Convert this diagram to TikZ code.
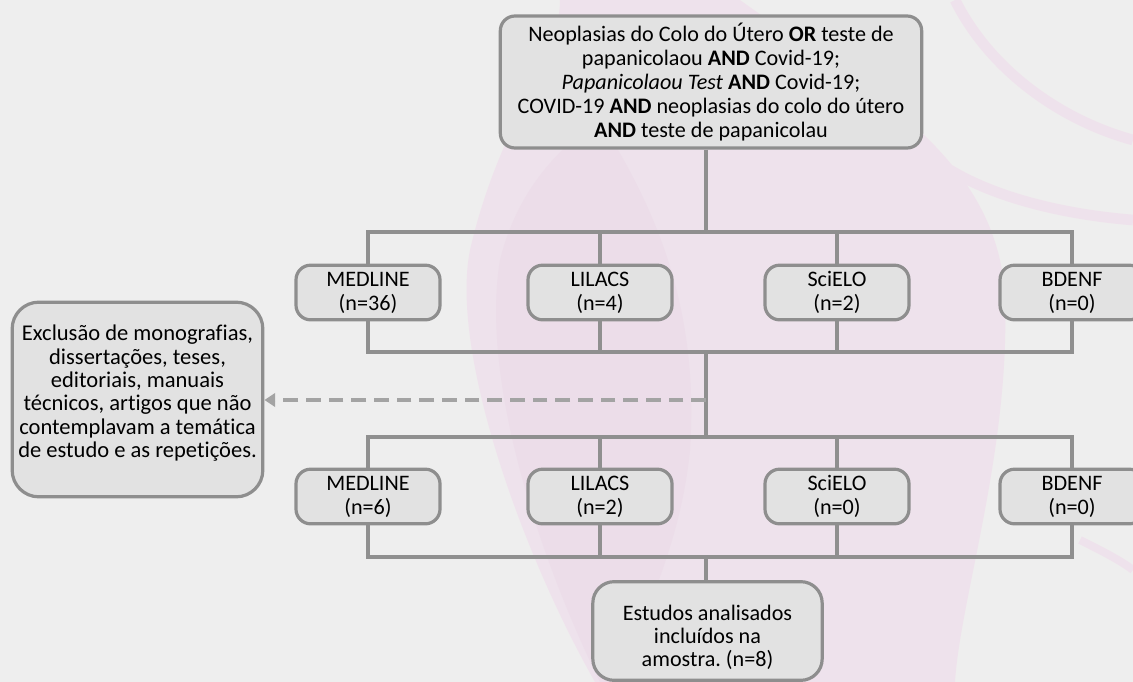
\documentclass[tikz,border=0pt]{standalone}
\usepackage{fontspec}
\setmainfont{Carlito}[Ligatures=NoCommon]
\usetikzlibrary{arrows.meta}
\frenchspacing
\definecolor{paper}{HTML}{EEEEEE}
\definecolor{petal}{HTML}{EEE2EC}
\definecolor{petaldark}{HTML}{ECDDE9}
\definecolor{boxfill}{HTML}{E2E2E2}
\definecolor{boxline}{HTML}{8E8E8E}
\definecolor{conn}{HTML}{8F8F8F}
\definecolor{dashc}{HTML}{A3A3A3}
\tikzset{
  box/.style={draw=boxline, line width=2.4pt, fill=boxfill, rounded corners=11pt,
    align=center, inner sep=0pt, font=\fontsize{16.6pt}{18pt}\selectfont, text=black},
  dbbox/.style={box, minimum width=108pt, minimum height=41pt},
  link/.style={draw=conn, line width=2.3pt},
  excl/.style={draw=dashc, line width=2.3pt, dash pattern=on 11pt off 6pt, -{Triangle[width=10pt,length=8pt]}},
}
\begin{document}
\begin{tikzpicture}[x=0.75pt,y=-0.75pt]
% background
\fill[paper] (0,0) rectangle (1133,682);
\useasboundingbox (0,0) rectangle (1133,682);
\fill[petal] (560,0) -- (740,0) .. controls (850,80) and (1000,150) .. (1005,300)
  .. controls (1010,450) and (960,600) .. (955,682) -- (595,682)
  .. controls (520,550) and (450,350) .. (470,250) .. controls (500,120) and (560,60) .. (560,0);
\fill[petaldark] (600,120) .. controls (650,200) and (700,300) .. (690,450)
  .. controls (680,550) and (640,620) .. (620,682) -- (600,682)
  .. controls (540,560) and (480,380) .. (500,260) .. controls (520,180) and (570,140) .. (600,120);
\draw[petal, line width=8pt] (955,0) .. controls (990,70) and (1060,120) .. (1133,140);
\draw[petal, line width=8pt] (950,170) .. controls (1000,200) and (1070,215) .. (1133,220);
\draw[petal, line width=6pt] (1080,540) .. controls (1100,550) and (1120,560) .. (1133,570);

% nodes
\node[box, minimum width=316pt, minimum height=99pt] (top) at (711,82)
  {Neoplasias do Colo do Útero \textbf{OR} teste de\\
   papanicolaou \textbf{AND} Covid-19;\\
   \textit{Papanicolaou Test} \textbf{AND} Covid-19;\\
   COVID-19 \textbf{AND} neoplasias do colo do útero\\
   \textbf{AND} teste de papanicolau};

\node[dbbox] (m1) at (368,292.5) {MEDLINE\\(n=36)};
\node[dbbox] (l1) at (600,292.5) {LILACS\\(n=4)};
\node[dbbox] (s1) at (837,292.5) {SciELO\\(n=2)};
\node[dbbox] (b1) at (1072,292.5) {BDENF\\(n=0)};

\node[dbbox] (m2) at (368,496.5) {MEDLINE\\(n=6)};
\node[dbbox] (l2) at (600,496.5) {LILACS\\(n=2)};
\node[dbbox] (s2) at (837,496.5) {SciELO\\(n=0)};
\node[dbbox] (b2) at (1072,496.5) {BDENF\\(n=0)};

\node[box, rounded corners=20pt, minimum width=188pt, minimum height=146pt,
  font=\fontsize{16.9pt}{17.5pt}\selectfont] (ex) at (137.5,399.5)
  {Exclusão de monografias,\\dissertações, teses,\\editoriais, manuais\\técnicos, artigos que não\\contemplavam a temática\\de estudo e as repetições.\\[-5.5pt]\mbox{}};

\node[box, rounded corners=16pt, minimum width=172pt, minimum height=74pt,
  font=\fontsize{16.6pt}{17.5pt}\selectfont] (fin) at (707.5,631)
  {\rule{0pt}{21pt}Estudos analisados\\incluídos na\\amostra. (n=8)};

% junctions
\coordinate (j1) at (706,232);
\coordinate (j2) at (706,352);
\coordinate (jx) at (706,400);
\coordinate (j3) at (706,437);
\coordinate (j4) at (706,557);

% connectors
\draw[link] (top.south -| j1) -- (j1);
\draw[link] (m1.north) -- (m1.north |- j1) -- (b1.north |- j1) -- (b1.north);
\draw[link] (l1.north) -- (l1.north |- j1);
\draw[link] (s1.north) -- (s1.north |- j1);
\draw[link] (m1.south) -- (m1.south |- j2) -- (b1.south |- j2) -- (b1.south);
\draw[link] (l1.south) -- (l1.south |- j2);
\draw[link] (s1.south) -- (s1.south |- j2);
\draw[link] (j2) -- (j3);
\draw[link] (m2.north) -- (m2.north |- j3) -- (b2.north |- j3) -- (b2.north);
\draw[link] (l2.north) -- (l2.north |- j3);
\draw[link] (s2.north) -- (s2.north |- j3);
\draw[link] (m2.south) -- (m2.south |- j4) -- (b2.south |- j4) -- (b2.south);
\draw[link] (l2.south) -- (l2.south |- j4);
\draw[link] (s2.south) -- (s2.south |- j4);
\draw[link] (j4) -- (fin.north -| j4);
\draw[excl] (jx) -- (ex.east |- jx);
\end{tikzpicture}
\end{document}
